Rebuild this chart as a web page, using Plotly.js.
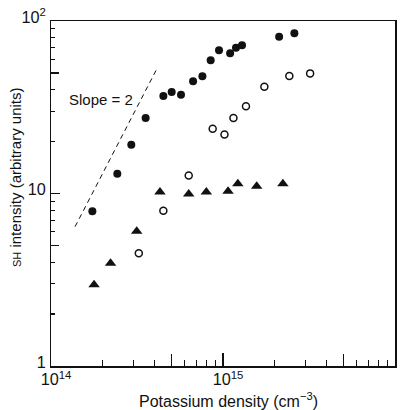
<!DOCTYPE html>
<html>
<head>
<meta charset="utf-8">
<script src="https://cdn.plot.ly/plotly-3.0.1.min.js"></script>
<style>html,body{margin:0;padding:0;background:#fff;}#chart{width:409px;height:410px;}</style>
</head>
<body>
<div id="chart"></div>
<script>
// Filled circles
const filledX = [1.74e14, 2.43e14, 2.93e14, 3.55e14, 4.50e14, 5.03e14, 5.70e14, 6.70e14, 7.59e14, 8.48e14, 9.48e14, 1.10e15, 1.19e15, 1.29e15, 2.12e15, 2.60e15];
const filledY = [7.9, 13.0, 19.2, 27.4, 36.7, 38.7, 37.4, 44.7, 47.8, 59.2, 67.6, 65.0, 70.0, 72.3, 81.1, 84.9];
// Open circles
const openX = [3.24e14, 4.50e14, 6.32e14, 8.71e14, 1.02e15, 1.15e15, 1.36e15, 1.74e15, 2.43e15, 3.21e15];
const openY = [4.50, 7.95, 12.7, 23.7, 22.0, 27.4, 32.0, 41.6, 48.0, 49.7];
// Triangles
const triX = [1.78e14, 2.22e14, 3.15e14, 4.30e14, 6.32e14, 8.00e14, 1.07e15, 1.22e15, 1.57e15, 2.23e15];
const triY = [2.96, 3.94, 6.04, 10.2, 9.93, 10.2, 10.3, 11.4, 11.0, 11.4];
// Slope = 2 reference line
const slopeX = [1.38e14, 4.12e14];
const slopeY = [6.42, 52.7];
const slopeLabel = 'Slope = 2';
const xTitle = 'Potassium density (cm<sup>−3</sup>)';
const yTitle = '<span style="font-size:11px">SH</span> intensity (arbitrary units)';
const xDecades = [1e14, 1e15];
const yDecades = [1, 10];
const minorMult = [2, 3, 4, 6, 7, 8, 9];
const midMult = [5];

const FONT = 'Liberation Sans, Arial, sans-serif';
const INK = '#111';

function ticksFrom(decades, mults) {
  const out = [];
  decades.forEach(d => mults.forEach(m => out.push(d * m)));
  return out;
}

const traces = [
  {x: slopeX, y: slopeY, mode: 'lines', line: {color: INK, width: 1, dash: '5px,4px'}, hoverinfo: 'skip'},
  {x: filledX, y: filledY, mode: 'markers', marker: {symbol: 'circle', size: 8, color: INK}},
  {x: openX, y: openY, mode: 'markers', marker: {symbol: 'circle-open', size: 7, color: INK, line: {width: 1.5, color: INK}}},
  {x: triX, y: triY, mode: 'markers', marker: {symbol: 'triangle-up', size: 10, color: INK}},
  {x: [1e15], y: [10], xaxis: 'x2', yaxis: 'y2', mode: 'markers', marker: {size: 1, opacity: 0}, hoverinfo: 'skip'},
  {x: [1e15], y: [10], xaxis: 'x3', yaxis: 'y3', mode: 'markers', marker: {size: 1, opacity: 0}, hoverinfo: 'skip'}
];

const axisBase = {
  type: 'log', showgrid: false, zeroline: false,
  ticks: 'inside', tickcolor: INK
};

const layout = {
  width: 409, height: 410,
  margin: {l: 51, r: 14, t: 21, b: 44},
  paper_bgcolor: '#fff', plot_bgcolor: '#fff',
  showlegend: false,
  font: {family: FONT, color: INK},
  xaxis: Object.assign({}, axisBase, {
    range: [14, 16], dtick: 1, exponentformat: 'power',
    showline: true, linecolor: INK, linewidth: 1.5, mirror: true,
    ticklen: 13, tickwidth: 1.2, ticklabelstandoff: -1, ticklabelshift: 5,
    tickfont: {family: FONT, size: 13, color: INK}
  }),
  yaxis: Object.assign({}, axisBase, {
    range: [0, 2], dtick: 1, exponentformat: 'power',
    showline: true, linecolor: INK, linewidth: 1.5, mirror: true,
    ticklen: 9, tickwidth: 1.2, ticklabelstandoff: 1, ticklabelshift: -4,
    tickfont: {family: FONT, size: 13, color: INK}
  }),
  // minor ticks
  xaxis2: Object.assign({}, axisBase, {
    overlaying: 'x', anchor: 'y2', side: 'bottom', range: [14, 16], tickmode: 'array',
    tickvals: ticksFrom(xDecades, minorMult), ticklen: 6, tickwidth: 1, showticklabels: false, showline: false
  }),
  yaxis2: Object.assign({}, axisBase, {
    overlaying: 'y', anchor: 'x2', side: 'left', range: [0, 2], tickmode: 'array',
    tickvals: ticksFrom(yDecades, minorMult), ticklen: 4, tickwidth: 1.2, showticklabels: false, showline: false
  }),
  // mid (×5) ticks
  xaxis3: Object.assign({}, axisBase, {
    overlaying: 'x', anchor: 'y3', side: 'bottom', range: [14, 16], tickmode: 'array',
    tickvals: ticksFrom(xDecades, midMult), ticklen: 12, tickwidth: 1, showticklabels: false, showline: false
  }),
  yaxis3: Object.assign({}, axisBase, {
    overlaying: 'y', anchor: 'x3', side: 'left', range: [0, 2], tickmode: 'array',
    tickvals: ticksFrom(yDecades, midMult), ticklen: 8, tickwidth: 1.2, showticklabels: false, showline: false
  }),
  annotations: [
    {x: Math.log10(1.95e14), y: Math.log10(35.3), xref: 'x', yref: 'y', text: slopeLabel, showarrow: false,
     font: {family: FONT, size: 15, color: INK}},
    {xref: 'paper', yref: 'paper', text: xTitle, showarrow: false, xanchor: 'center', yanchor: 'middle',
     font: {family: FONT, size: 16, color: INK}},
    {xref: 'paper', yref: 'paper', text: yTitle, showarrow: false, textangle: -90, xanchor: 'center', yanchor: 'middle',
     font: {family: FONT, size: 15, color: INK}}
  ]
};
// title centres in picture pixels -> paper coords
(function () {
  const pw = 409 - 51 - 14, ph = 410 - 21 - 44;
  layout.annotations[1].x = (228 - 51) / pw;
  layout.annotations[1].y = (410 - 44 - 400) / ph;
  layout.annotations[2].x = (15 - 51) / pw;
  layout.annotations[2].y = (410 - 44 - 177) / ph;
})();

Plotly.newPlot('chart', traces, layout, {displayModeBar: false, staticPlot: true});
</script>
</body>
</html>
